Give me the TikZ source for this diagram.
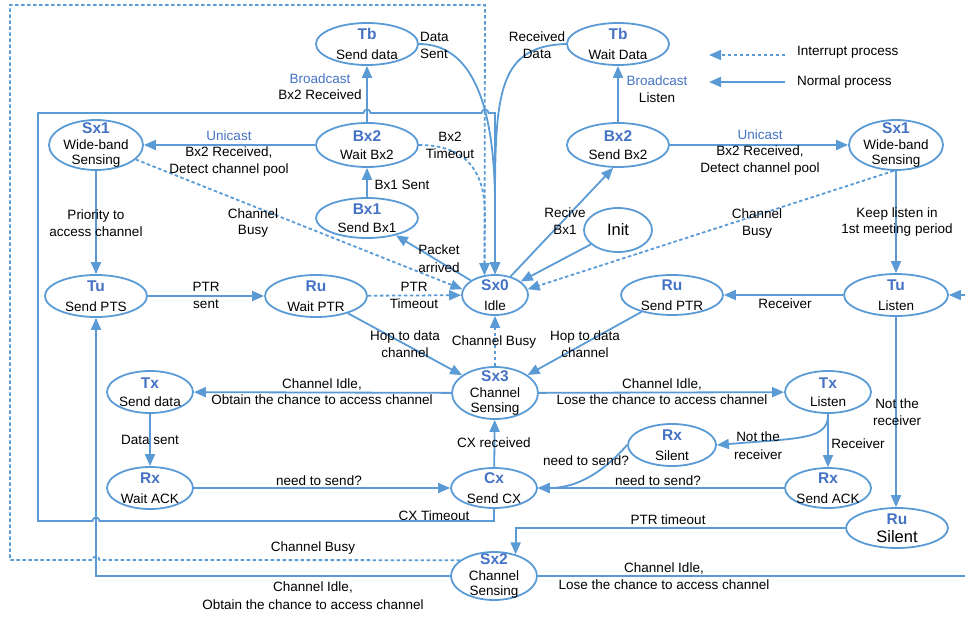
\documentclass[tikz,border=0pt]{standalone}
\usepackage{fontspec}
\setmainfont{Liberation Sans}
\usetikzlibrary{arrows.meta,shapes.geometric}
\definecolor{lnc}{HTML}{5B9BD5}
\definecolor{ttc}{HTML}{4472C4}
\newcommand\ttl[1]{{\fontsize{15.5}{16.5}\selectfont\bfseries\color{ttc}#1}}
\newcommand\bl[1]{{\color{ttc}#1}}
\begin{document}
\begin{tikzpicture}[x=1pt,y=-1pt,
  st/.style={ellipse,draw=lnc,line width=1.8pt,inner sep=0pt},
  arr/.style={draw=lnc,line width=1.8pt,-{Triangle[length=12pt,width=10pt]}},
  dsh/.style={arr,dash pattern=on 3.5pt off 2.5pt},
  pln/.style={draw=lnc,line width=1.8pt},
  lbl/.style={align=center,inner sep=0pt,font=\fontsize{13.5}{16.5}\selectfont}]
\useasboundingbox (0,0) rectangle (965,618);

% ---- states
\node[st,minimum width=102pt,minimum height=42pt] (tbs) at (367,44) {};
\node[lbl] (tbsT) at (tbs) {\ttl{Tb}\\[3pt]Send data};
\node[st,minimum width=102pt,minimum height=42pt] (tbw) at (618,44) {};
\node[lbl] (tbwT) at (tbw) {\ttl{Tb}\\[3pt]Wait Data};
\node[st,minimum width=94pt,minimum height=50pt] (sx1l) at (96,145) {};
\node[lbl] (sx1lT) at (sx1l) {\ttl{Sx1}\\[-1pt]Wide-band\\[-1pt]Sensing};
\node[st,minimum width=102pt,minimum height=44pt] (bx2w) at (367,145) {};
\node[lbl] (bx2wT) at (bx2w) {\ttl{Bx2}\\[2pt]Wait Bx2};
\node[st,minimum width=102pt,minimum height=44pt] (bx2s) at (618,145) {};
\node[lbl] (bx2sT) at (bx2s) {\ttl{Bx2}\\[2pt]Send Bx2};
\node[st,minimum width=94pt,minimum height=50pt] (sx1r) at (896,145) {};
\node[lbl] (sx1rT) at (sx1r) {\ttl{Sx1}\\[-1pt]Wide-band\\[-1pt]Sensing};
\node[st,minimum width=102pt,minimum height=40pt] (bx1) at (367,218) {};
\node[lbl] (bx1T) at (bx1) {\ttl{Bx1}\\[2pt]Send Bx1};
\node[st,minimum width=68pt,minimum height=44pt] (init) at (618,230) {};
\node[lbl,font=\fontsize{16.5}{18}\selectfont] (initT) at (init) {Init};
\node[st,minimum width=66pt,minimum height=40pt] (sx0) at (495,295) {};
\node[lbl] (sx0T) at (sx0) {\ttl{Sx0}\\[3pt]Idle};
\node[st,minimum width=102pt,minimum height=42pt] (tus) at (96,296) {};
\node[lbl] (tusT) at (tus) {\ttl{Tu}\\[3pt]Send PTS};
\node[st,minimum width=102pt,minimum height=42pt] (ruw) at (316,296) {};
\node[lbl] (ruwT) at (ruw) {\ttl{Ru}\\[3pt]Wait PTR};
\node[st,minimum width=102pt,minimum height=40pt] (rus) at (672,295) {};
\node[lbl] (rusT) at (rus) {\ttl{Ru}\\[3pt]Send PTR};
\node[st,minimum width=104pt,minimum height=42pt] (tul) at (896,295) {};
\node[lbl] (tulT) at (tul) {\ttl{Tu}\\[3pt]Listen};
\node[st,minimum width=86pt,minimum height=52pt] (sx3) at (495,393) {};
\node[lbl] (sx3T) at (sx3) {\ttl{Sx3}\\[-1pt]Channel\\[-1pt]Sensing};
\node[st,minimum width=86pt,minimum height=42pt] (txs) at (150,392) {};
\node[lbl] (txsT) at (txs) {\ttl{Tx}\\[2pt]Send data};
\node[st,minimum width=86pt,minimum height=42pt] (txl) at (828,392) {};
\node[lbl] (txlT) at (txl) {\ttl{Tx}\\[2pt]Listen};
\node[st,minimum width=86pt,minimum height=42pt] (rxw) at (150,488) {};
\node[lbl] (rxwT) at (rxw) {\ttl{Rx}\\[3pt]Wait ACK};
\node[st,minimum width=86pt,minimum height=40pt] (cx) at (494,488) {};
\node[lbl] (cxT) at (cx) {\ttl{Cx}\\[3pt]Send CX};
\node[st,minimum width=88pt,minimum height=42pt] (rxs) at (672,445) {};
\node[lbl] (rxsT) at (rxs) {\ttl{Rx}\\[3pt]Silent};
\node[st,minimum width=86pt,minimum height=40pt] (rxa) at (828,488) {};
\node[lbl] (rxaT) at (rxa) {\ttl{Rx}\\[3pt]Send ACK};
\node[st,minimum width=102pt,minimum height=40pt] (rus2) at (897,528) {};
\node[lbl] (rus2T) at (rus2) {\ttl{Ru}\\[1pt]{\fontsize{16.5}{18}\selectfont Silent}};
\node[st,minimum width=86pt,minimum height=48pt] (sx2) at (494,576) {};
\node[lbl] (sx2T) at (sx2) {\ttl{Sx2}\\[-1pt]Channel\\[-1pt]Sensing};

% ---- legend
\coordinate (lgA1) at (785,55); \coordinate (lgA2) at (709,55);
\draw[dsh] (lgA1) -- (lgA2);
\node[lbl,anchor=west] (lgT1) at (797,52) {Interrupt process};
\coordinate (lgB1) at (785,82); \coordinate (lgB2) at (709,82);
\draw[arr] (lgB1) -- (lgB2);
\node[lbl,anchor=west] (lgT2) at (797,82) {Normal process};

% ---- connectors
\draw[arr] (bx2w) -- (tbs);
\draw[arr] (bx2s) -- (tbw);
\draw[arr] (bx2w) -- (sx1l);
\draw[arr] (bx2s) -- (sx1r);
\draw[arr] (bx1) -- (bx2w);
\draw[arr] (sx0) -- (bx1);
\draw[arr] (sx0.50) -- (bx2s.258);
\draw[arr] (init) -- (sx0);
\draw[dsh] (sx1r.265) -- (sx0.10);
\draw[dsh] (sx1l.-20) -- (sx0.170);
\draw[dsh] (bx2w.east) .. controls (465,145) and (485,170) .. (485,215) -- (sx0.118);
\draw[arr] (tbs.east) .. controls (470,44) and (494,100) .. (495,200) -- (sx0.north);
\draw[arr] (tbw.west) .. controls (500,46) and (495,90) .. (495,200) -- (sx0.north);
\draw[arr] (sx1l) -- (tus);
\draw[arr] (sx1r) -- (tul);
\draw[arr] (tus) -- (ruw);
\draw[dsh] (ruw) -- (sx0);
\draw[arr] (ruw) -- (sx3);
\draw[arr] (rus) -- (sx3);
\draw[dsh] (sx3) -- (sx0);
\draw[arr] (tul) -- (rus);
\coordinate (inR) at (965,295);
\draw[arr] (inR) -- (tul.east);
\draw[arr] (sx3) -- (txs);
\draw[arr] (sx3) -- (txl);
\draw[arr] (txs) -- (rxw);
\draw[arr] (rxw) -- (cx);
\draw[arr] (cx) -- (sx3);
\draw[arr] (rxa) -- (cx);
\draw[arr] (rxs.west) .. controls (612,462) and (585,488) .. (cx.east);
\draw[arr] (txl.south) .. controls (829,440) and (800,438) .. (rxs.east);
\draw[arr] (txl) -- (rxa);
\draw[arr] (tul.south) -- (tul.south |- rus2.north);
\draw[arr] (rus2.west) -| (sx2.45);
\draw[arr] (cx.south) -- (494,521) -- (99.5,521) arc[start angle=0,end angle=-180,radius=3.5] -- (38,521) -- (38,113)
  -- (363.5,113) arc[start angle=180,end angle=360,radius=3.5] -- (481.5,113) arc[start angle=180,end angle=360,radius=3.5]
  -- (495,113) -- (sx0.north);
\draw[dsh] (sx2.155) -- (99.5,560) arc[start angle=0,end angle=-180,radius=3.5] -- (10,560) -- (10,5) -- (485,5) -- (sx0.118);
\draw[arr] (sx2.west) -- (96,576) -- (tus.south);
\coordinate (outR) at (965,576);
\draw[pln] (sx2.east) -- (outR);

% ---- labels
\node[lbl] (L1) at (320,86.5) {\bl{Broadcast}\\Bx2 Received};
\node[lbl] (L2) at (657,89) {\bl{Broadcast}\\Listen};
\node[lbl] (L3) at (229,153.5) {\bl{Unicast}\\Bx2 Received,\\Detect channel pool};
\node[lbl] (L4) at (760,152.5) {\bl{Unicast}\\Bx2 Received,\\Detect channel pool};
\node[lbl,align=left,anchor=west] (L5) at (420,45.5) {Data\\Sent};
\node[lbl] (L6) at (537,45) {Received\\Data};
\node[lbl] (L7) at (450,145.5) {Bx2\\Timeout};
\node[lbl] (L8) at (402,185) {Bx1 Sent};
\node[lbl] (L9) at (96,223) {Priority to\\access channel};
\node[lbl] (L10) at (253,223) {Channel\\Busy};
\node[lbl] (L11) at (757,223.5) {Channel\\Busy};
\node[lbl] (L12) at (897,222) {Keep listen in\\1st meeting period};
\node[lbl] (L13) at (565,221) {Recive\\Bx1};
\node[lbl] (L14) at (439,258.5) {Packet\\[2pt]arrived};
\node[lbl] (L15) at (414,295.5) {PTR\\Timeout};
\node[lbl] (L16) at (206,295.5) {PTR\\sent};
\node[lbl] (L17) at (405,344) {Hop to data\\channel};
\node[lbl] (L18) at (494,342) {Channel Busy};
\node[lbl] (L19) at (585,344) {Hop to data\\channel};
\node[lbl] (L20) at (785,304) {Receiver};
\node[lbl] (L21) at (322,391.5) {Channel Idle,\\Obtain the chance to access channel};
\node[lbl] (L22) at (662,391.5) {Channel Idle,\\Lose the chance to access channel};
\node[lbl] (L23) at (150,440) {Data sent};
\node[lbl] (L24) at (319,481) {need to send?};
\node[lbl] (L25) at (494,443) {CX received};
\node[lbl] (L26) at (658,481) {need to send?};
\node[lbl] (L27) at (586,461) {need to send?};
\node[lbl] (L28) at (758,445.5) {Not the\\[2pt]receiver};
\node[lbl] (L29) at (858,444) {Receiver};
\node[lbl] (L30) at (897,412) {Not the\\receiver};
\node[lbl] (L31) at (668,520) {PTR timeout};
\node[lbl] (L32) at (434,516) {CX Timeout};
\node[lbl] (L33) at (313,548) {Channel Busy};
\node[lbl] (L34) at (313,595.5) {Channel Idle,\\[2pt]Obtain the chance to access channel};
\node[lbl] (L35) at (664,576) {Channel Idle,\\Lose the chance to access channel};
\end{tikzpicture}
\end{document}
